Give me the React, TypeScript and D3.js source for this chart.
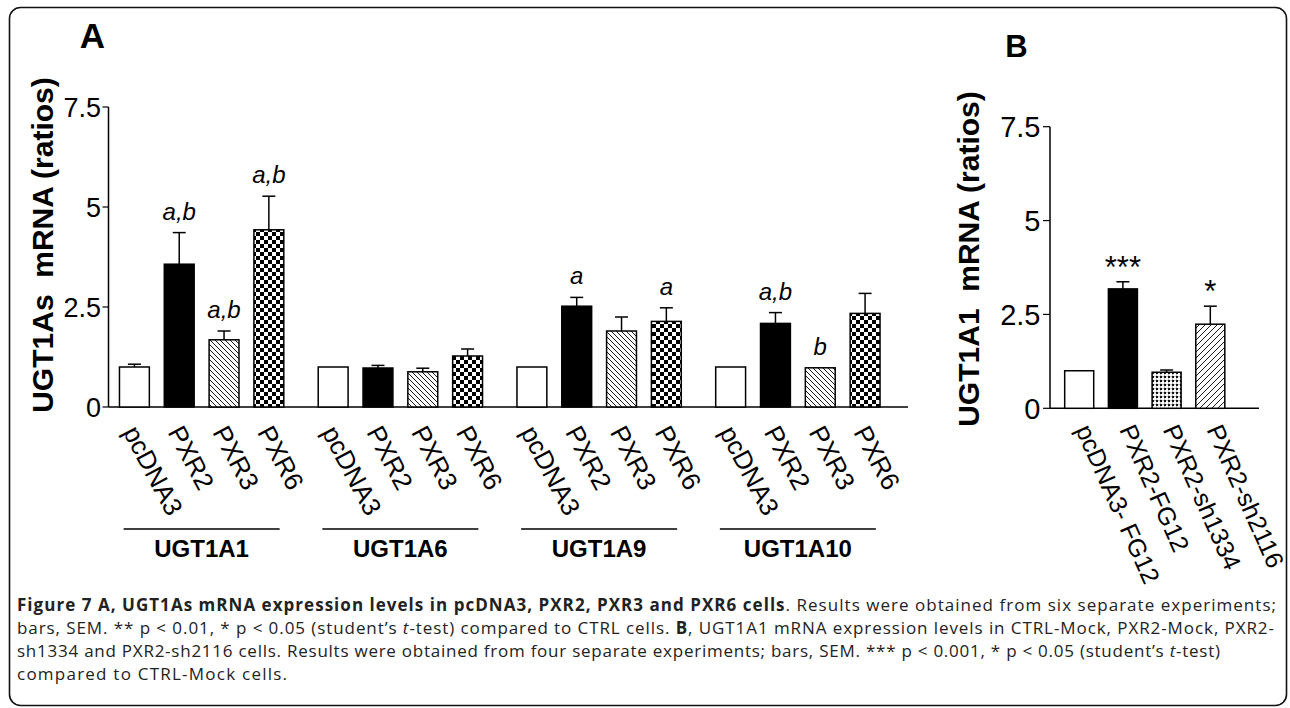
import React from "react";
import * as d3 from "d3";

// ---------- data ----------
const groups = ["UGT1A1", "UGT1A6", "UGT1A9", "UGT1A10"];
const cellsA = ["pcDNA3", "PXR2", "PXR3", "PXR6"];
const meanA = [
  [1.0, 3.57, 1.68, 4.43],
  [1.0, 0.975, 0.88, 1.275],
  [1.0, 2.52, 1.9, 2.14],
  [1.0, 2.09, 0.98, 2.34],
];
const semA = [
  [0.07, 0.79, 0.22, 0.84],
  [0, 0.065, 0.09, 0.175],
  [0, 0.22, 0.35, 0.34],
  [0, 0.27, 0, 0.5],
];
const sigA = [
  ["", "a,b", "a,b", "a,b"],
  ["", "", "", ""],
  ["", "a", "", "a"],
  ["", "a,b", "b", ""],
];
const cellsB = ["pcDNA3- FG12", "PXR2-FG12", "PXR2-sh1334", "PXR2-sh2116"];
const meanB = [1.0, 3.18, 0.96, 2.24];
const semB = [0, 0.19, 0.06, 0.48];
const sigB = ["", "***", "", "*"];
const yTicks = [0, 2.5, 5, 7.5];
const yTickLabels = ["0", "2.5", "5", "7.5"];

const fillA = ["#fff", "#000", "url(#hatchBack)", "url(#checker)"];
const fillB = ["#fff", "#000", "url(#grid)", "url(#hatchFwd)"];

const FONT = "'Liberation Sans', Arial, sans-serif";
const CAP = "'Open Sans', 'Noto Sans', sans-serif";

export default function App() {
  // Panel A scales
  const yA = d3.scaleLinear().domain([0, 7.5]).range([407, 107]);
  const gX = d3.scaleBand<string>().domain(groups).range([112, 887.5]).paddingInner(0.098).paddingOuter(0);
  const iX = d3
    .scaleBand<string>()
    .domain(cellsA)
    .range([0, gX.bandwidth()])
    .paddingInner(1 / 3)
    .paddingOuter(1 / 6);
  const axA = 108.5;

  // Panel B scales
  const yB = d3.scaleLinear().domain([0, 7.5]).range([408.3, 126.7]);
  const xB = d3.scaleBand<string>().domain(cellsB).range([1050, 1239.5]).padding(0.336);
  const axB = 1050;

  const bw = iX.bandwidth();

  return (
    <div style={{ position: "absolute", left: 0, top: 0 }}>
      <svg width={1290} height={708} style={{ display: "block", background: "#fff" }}>
        <defs>
          <pattern id="hatchBack" patternUnits="userSpaceOnUse" width={5} height={5}>
            <rect width={5} height={5} fill="#fff" />
            <path d="M0,0 L5,5 M-1,4 L1,6 M4,-1 L6,1" stroke="#000" strokeWidth={0.9} />
          </pattern>
          <pattern id="hatchFwd" patternUnits="userSpaceOnUse" width={6} height={6}>
            <rect width={6} height={6} fill="#fff" />
            <path d="M0,6 L6,0 M-1,1 L1,-1 M5,7 L7,5" stroke="#000" strokeWidth={0.9} />
          </pattern>
          <pattern id="checker" patternUnits="userSpaceOnUse" width={8} height={8}>
            <rect width={8} height={8} fill="#fff" />
            <rect x={0} y={0} width={4} height={4} fill="#000" />
            <rect x={4} y={4} width={4} height={4} fill="#000" />
          </pattern>
          <pattern id="grid" patternUnits="userSpaceOnUse" width={4} height={4}>
            <rect width={4} height={4} fill="#fff" />
            <rect x={0} y={0} width={2} height={2} fill="#111" />
            <rect x={2} y={0.5} width={2} height={0.6} fill="#888" />
            <rect x={0.5} y={2} width={0.6} height={2} fill="#888" />
          </pattern>
        </defs>

        {/* border */}
        <rect x={9.5} y={7.5} width={1277} height={698} rx={11} ry={11} fill="none" stroke="#111" strokeWidth={1.6} />

        {/* Panel labels */}
        <text x={92.5} y={48} textAnchor="middle" fontFamily={FONT} fontWeight="bold" fontSize={35}>A</text>
        <text x={1016.5} y={57} textAnchor="middle" fontFamily={FONT} fontWeight="bold" fontSize={31}>B</text>

        {/* ===== Panel A ===== */}
        <text
          transform={`translate(53,245) rotate(-90)`}
          textAnchor="middle"
          fontFamily={FONT}
          fontWeight="bold"
          fontSize={30}
          style={{ whiteSpace: "pre" }}
        >
          {"UGT1As  mRNA (ratios)"}
        </text>
        <line x1={axA} x2={axA} y1={yA(7.5)} y2={yA(0)} stroke="#000" strokeWidth={1.5} />
        <line x1={axA} x2={908} y1={yA(0)} y2={yA(0)} stroke="#000" strokeWidth={1.5} />
        {yTicks.map((t, k) => (
          <g key={"ta" + k}>
            <line x1={axA - 6} x2={axA} y1={yA(t)} y2={yA(t)} stroke="#000" strokeWidth={1.2} />
            <text x={axA - 7.5} y={yA(t)} dy="0.36em" textAnchor="end" fontFamily={FONT} fontSize={27}>
              {yTickLabels[k]}
            </text>
          </g>
        ))}
        {groups.map((g, gi) => {
          const gx = gX(g)!;
          const cx = gx + gX.bandwidth() / 2;
          return (
            <g key={g}>
              {cellsA.map((c, ci) => {
                const x = gx + iX(c)!;
                const m = meanA[gi][ci];
                const e = semA[gi][ci];
                const xc = x + bw / 2;
                const top = yA(m + e);
                return (
                  <g key={c}>
                    {e > 0 && (
                      <g stroke="#000" strokeWidth={1.5}>
                        <line x1={xc} x2={xc} y1={yA(m)} y2={top} />
                        <line x1={xc - 6.5} x2={xc + 6.5} y1={top} y2={top} />
                      </g>
                    )}
                    <rect x={x} y={yA(m)} width={bw} height={yA(0) - yA(m)} fill={fillA[ci]} stroke="#000" strokeWidth={1.5} />
                    {sigA[gi][ci] && (
                      <text x={xc} y={top - 13} textAnchor="middle" fontFamily={FONT} fontStyle="italic" fontSize={24}>
                        {sigA[gi][ci]}
                      </text>
                    )}
                    <text
                      transform={`translate(${xc - 12},432) rotate(62)`}
                      fontFamily={FONT}
                      fontSize={26}
                    >
                      {c}
                    </text>
                  </g>
                );
              })}
              <line x1={cx - 78} x2={cx + 78} y1={529} y2={529} stroke="#000" strokeWidth={1.5} />
              <text x={cx} y={557} textAnchor="middle" fontFamily={FONT} fontWeight="bold" fontSize={24}>
                {g}
              </text>
            </g>
          );
        })}

        {/* ===== Panel B ===== */}
        <text
          transform={`translate(979,259) rotate(-90)`}
          textAnchor="middle"
          fontFamily={FONT}
          fontWeight="bold"
          fontSize={30}
          style={{ whiteSpace: "pre" }}
        >
          {"UGT1A1  mRNA (ratios)"}
        </text>
        <line x1={axB} x2={axB} y1={yB(7.5)} y2={yB(0)} stroke="#000" strokeWidth={1.5} />
        <line x1={axB} x2={1259} y1={yB(0)} y2={yB(0)} stroke="#000" strokeWidth={1.5} />
        {yTicks.map((t, k) => (
          <g key={"tb" + k}>
            <line x1={axB - 7} x2={axB} y1={yB(t)} y2={yB(t)} stroke="#000" strokeWidth={1.2} />
            <text x={axB - 9.5} y={yB(t)} dy="0.36em" textAnchor="end" fontFamily={FONT} fontSize={29}>
              {yTickLabels[k]}
            </text>
          </g>
        ))}
        {cellsB.map((c, ci) => {
          const x = xB(c)!;
          const w = xB.bandwidth();
          const xc = x + w / 2;
          const m = meanB[ci];
          const e = semB[ci];
          const top = yB(m + e);
          return (
            <g key={c}>
              {e > 0 && (
                <g stroke="#000" strokeWidth={1.5}>
                  <line x1={xc} x2={xc} y1={yB(m)} y2={top} />
                  <line x1={xc - 6.5} x2={xc + 6.5} y1={top} y2={top} />
                </g>
              )}
              <rect x={x} y={yB(m)} width={w} height={yB(0) - yB(m)} fill={fillB[ci]} stroke="#000" strokeWidth={1.5} />
              {sigB[ci] && (
                <text x={xc} y={top - 4} textAnchor="middle" fontFamily={FONT} fontSize={31}>
                  {sigB[ci]}
                </text>
              )}
              <text transform={`translate(${xc - 4},429.5) rotate(66)`} fontFamily={FONT} fontSize={25} style={{ whiteSpace: "pre" }}>
                {c}
              </text>
            </g>
          );
        })}

        {/* ===== Caption ===== */}
        <g fontFamily={CAP} fontSize={17} fill="#222">
          <text x={17} y={611} textLength={1259} lengthAdjust="spacing">
            <tspan fontWeight="bold">Figure 7 A, UGT1As mRNA expression levels in pcDNA3, PXR2, PXR3 and PXR6 cells</tspan>
            <tspan>. Results were obtained from six separate experiments;</tspan>
          </text>
          <text x={17} y={634} textLength={1257} lengthAdjust="spacing">
            <tspan>bars, SEM. ** p &lt; 0.01, * p &lt; 0.05 (student’s </tspan>
            <tspan fontStyle="italic">t</tspan>
            <tspan>-test) compared to CTRL cells. </tspan>
            <tspan fontWeight="bold">B</tspan>
            <tspan>, UGT1A1 mRNA expression levels in CTRL-Mock, PXR2-Mock, PXR2-</tspan>
          </text>
          <text x={17} y={657} textLength={1203} lengthAdjust="spacing">
            <tspan>sh1334 and PXR2-sh2116 cells. Results were obtained from four separate experiments; bars, SEM. *** p &lt; 0.001, * p &lt; 0.05 (student’s </tspan>
            <tspan fontStyle="italic">t</tspan>
            <tspan>-test)</tspan>
          </text>
          <text x={17} y={680} textLength={270} lengthAdjust="spacing">
            compared to CTRL-Mock cells.
          </text>
        </g>
      </svg>
    </div>
  );
}
